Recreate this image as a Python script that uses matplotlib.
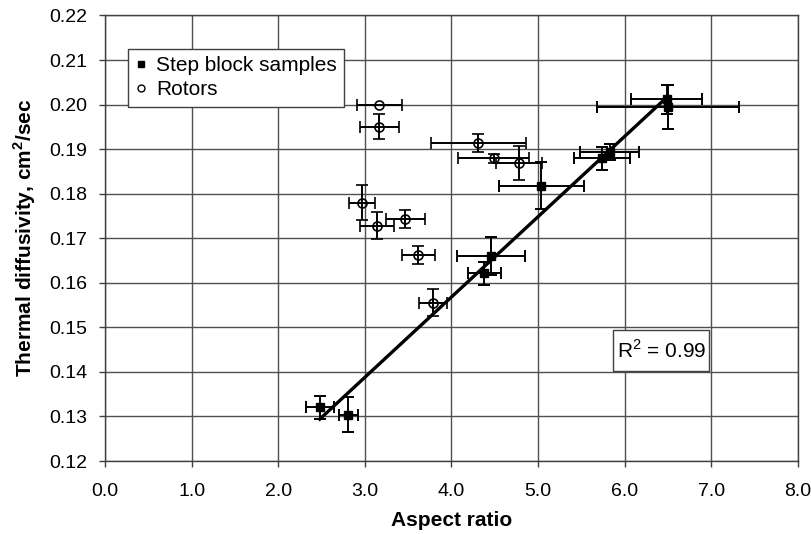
import numpy as np
import matplotlib
matplotlib.use("Agg")
import matplotlib.pyplot as plt
from matplotlib.lines import Line2D
from matplotlib.patches import Rectangle

plt.rcParams['font.family'] = ['Liberation Sans', 'DejaVu Sans']
plt.rcParams['mathtext.fontset'] = 'custom'
plt.rcParams['mathtext.rm'] = 'Liberation Sans'
plt.rcParams['mathtext.bf'] = 'Liberation Sans:bold'

# Step block samples
step_x = [2.48, 2.81, 4.38, 4.46, 5.04, 5.74, 5.83, 6.49, 6.50]
step_y = [0.1321, 0.1304, 0.1621, 0.1660, 0.1818, 0.1879, 0.1894, 0.2012, 0.1995]
step_xerr = [0.16, 0.11, 0.19, 0.39, 0.49, 0.32, 0.34, 0.41, 0.82]
step_yerr = [0.0026, 0.0039, 0.0026, 0.0042, 0.0053, 0.0025, 0.0018, 0.0033, 0.0049]

# Rotors
rotor_x = [3.17, 3.17, 4.31, 4.49, 4.78, 2.97, 3.14, 3.47, 3.62, 3.79]
rotor_y = [0.2000, 0.1950, 0.1913, 0.1879, 0.1869, 0.1780, 0.1728, 0.1744, 0.1662, 0.1555]
rotor_xerr = [0.26, 0.23, 0.55, 0.41, 0.27, 0.15, 0.20, 0.22, 0.19, 0.16]
rotor_yerr = [0.0, 0.0028, 0.0020, 0.0011, 0.0038, 0.0039, 0.0030, 0.0020, 0.0020, 0.0030]

x_ticks = [0, 1, 2, 3, 4, 5, 6, 7, 8]
y_ticks = [0.12, 0.13, 0.14, 0.15, 0.16, 0.17, 0.18, 0.19, 0.20, 0.21, 0.22]
r2_text = "R$^2$ = 0.99"

fig = plt.figure(figsize=(8.12, 5.34), dpi=100)
ax = fig.add_axes([0.1293, 0.1367, 0.8531, 0.8343])

ax.set_xlim(0, 8)
ax.set_ylim(0.12, 0.22)
ax.set_xticks(x_ticks)
ax.set_xticklabels([f"{v:.1f}" for v in x_ticks])
ax.set_yticks(y_ticks)
ax.set_yticklabels([f"{v:.2f}" for v in y_ticks])
ax.grid(True, color='#505050', linewidth=1.0)
ax.set_axisbelow(True)
for s in ax.spines.values():
    s.set_color('#404040')
    s.set_linewidth(1.0)
ax.tick_params(direction='out', length=4, width=1, color='#404040',
               labelsize=14)
ax.tick_params(axis='x', pad=12)
ax.tick_params(axis='y', pad=9)

# regression line through step block data
coef = np.polyfit(step_x, step_y, 1)
xl = np.array([min(step_x), max(step_x)])
ax.plot(xl, np.polyval(coef, xl), color='black', linewidth=2.4, zorder=2)

ax.errorbar(rotor_x, rotor_y, xerr=rotor_xerr, yerr=rotor_yerr, fmt='o',
            mfc='none', mec='black', mew=1.2, ms=6.5, ecolor='black',
            elinewidth=1.4, capsize=4, capthick=1.4, zorder=3)
ax.errorbar(step_x, step_y, xerr=step_xerr, yerr=step_yerr, fmt='s',
            mfc='black', mec='black', ms=6, ecolor='black',
            elinewidth=1.4, capsize=4, capthick=1.4, zorder=4)

ax.set_xlabel("Aspect ratio", fontsize=15, fontweight='bold', labelpad=8)
ax.set_ylabel(r"Thermal diffusivity, cm$^{\mathbf{2}}$/sec", fontsize=15,
              fontweight='bold', labelpad=8)

handles = [Line2D([], [], marker='s', color='black', ls='none', ms=5),
           Line2D([], [], marker='o', mfc='none', mec='black', ls='none', ms=5, mew=1.0)]
leg = ax.legend(handles, ["Step block samples", "Rotors"], loc='upper left',
                bbox_to_anchor=(0.033, 0.925), fontsize=15, frameon=True,
                fancybox=False, edgecolor='#404040', framealpha=1,
                handlelength=0.6, handletextpad=0.4, borderpad=0.35,
                labelspacing=0.25, borderaxespad=0)
leg.get_frame().set_linewidth(1.0)

ax.add_patch(Rectangle((5.87, 0.1402), 1.11, 0.0093, facecolor='white',
                       edgecolor='#404040', linewidth=1.0, zorder=5))
ax.text(6.425, 0.1449, r2_text, fontsize=15, ha='center', va='center', zorder=6)

fig.savefig("out.png", dpi=100)
